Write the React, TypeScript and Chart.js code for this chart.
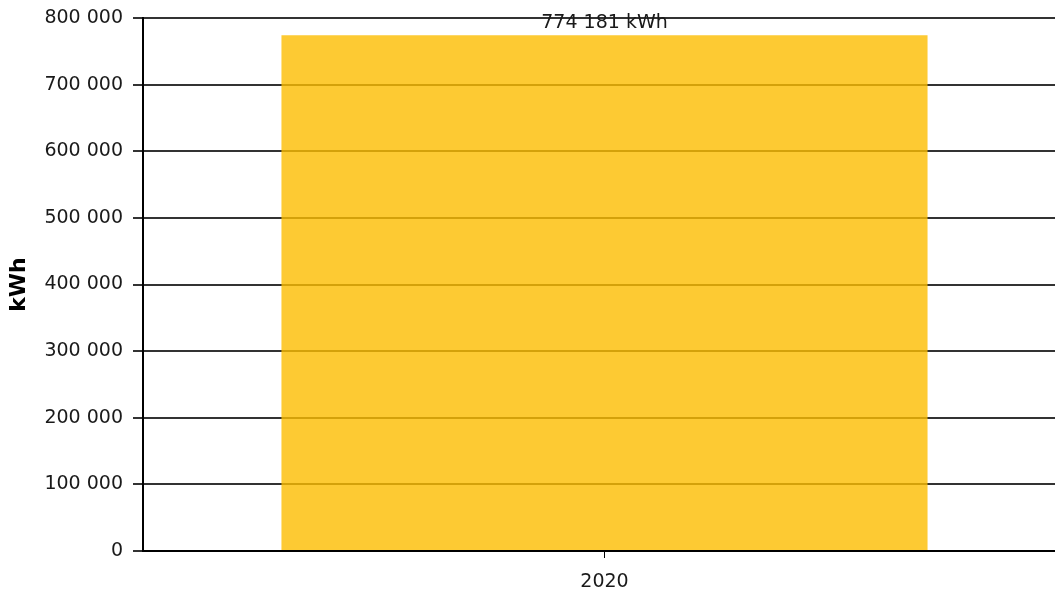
import React, { useEffect, useRef } from "react";
import { Chart, registerables } from "chart.js";

Chart.register(...registerables);

const categories: string[] = ["2020"];
const energyValues: number[] = [774181];
const yTickMax = 800000;
const yTickStep = 100000;
const unitLabel = "kWh";

const FONT = "'DejaVu Sans', Verdana, sans-serif";

function fmt(n: number): string {
  return Math.round(n).toString().replace(/\B(?=(\d{3})+(?!\d))/g, " ");
}

const valueLabelPlugin = {
  id: "valueLabel",
  afterDatasetsDraw(chart: any) {
    const ctx = chart.ctx;
    const meta = chart.getDatasetMeta(0);
    const data = chart.data.datasets[0].data as number[];
    ctx.save();
    ctx.font = `19px ${FONT}`;
    ctx.fillStyle = "#1a1a1a";
    ctx.textAlign = "center";
    ctx.textBaseline = "alphabetic";
    meta.data.forEach((el: any, i: number) => {
      ctx.fillText(`${fmt(data[i])} ${unitLabel}`, el.x, el.y - 7);
    });
    ctx.restore();
  },
};

export default function App() {
  const ref = useRef<HTMLCanvasElement | null>(null);
  useEffect(() => {
    if (!ref.current) return;
    const chart = new Chart(ref.current, {
      type: "bar",
      data: {
        labels: categories,
        datasets: [
          {
            data: energyValues,
            backgroundColor: "rgba(252,189,0,0.8)",
            borderWidth: 0,
            categoryPercentage: 1,
            barPercentage: 0.7,
          },
        ],
      },
      options: {
        responsive: false,
        animation: false,
        layout: { padding: { top: 18, left: 0, right: 0, bottom: 0 } },
        plugins: {
          legend: { display: false },
          tooltip: { enabled: false },
        },
        scales: {
          x: {
            grid: {
              offset: false,
              drawOnChartArea: false,
              drawTicks: true,
              tickLength: 7,
              color: "#000",
              lineWidth: 1,
            },
            border: { color: "#000", width: 2 },
            ticks: {
              color: "#1a1a1a",
              font: { family: FONT, size: 19 },
              padding: 13,
            },
            afterFit: (s: any) => {
              s.height = 45;
              s.paddingLeft = 0;
              s.paddingRight = 0;
            },
          },
          y: {
            min: 0,
            max: yTickMax,
            grid: {
              color: "#333",
              lineWidth: 2,
              tickLength: 10,
            },
            border: { color: "#000", width: 2 },
            ticks: {
              stepSize: yTickStep,
              color: "#1a1a1a",
              font: { family: FONT, size: 19 },
              padding: 10,
              callback: (v: any) => fmt(Number(v)),
            },
            title: {
              display: true,
              text: unitLabel,
              color: "#000",
              font: { family: FONT, size: 22, weight: "bold" },
              padding: { top: 6, bottom: 0 },
            },
            afterFit: (s: any) => {
              s.width = 143;
              s.paddingTop = 0;
              s.paddingBottom = 0;
            },
          },
        },
      },
      plugins: [valueLabelPlugin],
    });
    return () => chart.destroy();
  }, []);
  return (
    <div
      style={{
        position: "fixed",
        left: 0,
        top: 0,
        width: 1055,
        height: 596,
        overflow: "hidden",
        background: "#fff",
      }}
    >
      <canvas ref={ref} width={1066} height={596} style={{ display: "block" }} />
    </div>
  );
}
